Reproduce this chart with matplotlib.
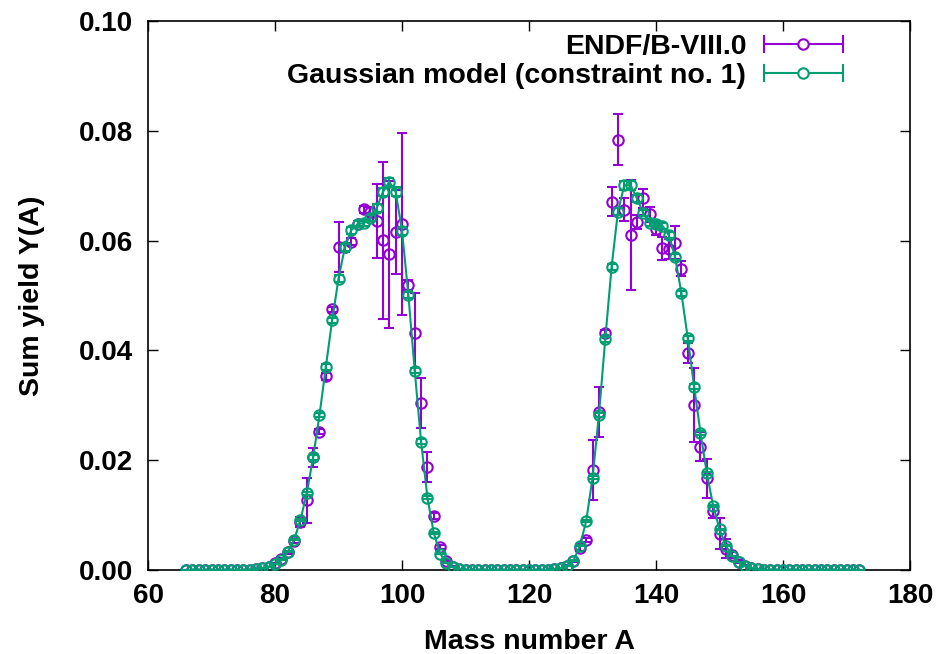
import matplotlib
matplotlib.use('Agg')
import matplotlib.pyplot as plt
from matplotlib.legend_handler import HandlerBase
from matplotlib.lines import Line2D

# fission product sum yields: ENDF/B-VIII.0 vs gaussian model fit

mass = list(range(66, 173))

endf_yield = ([0.0] * 11 +
              [0.0001, 0.0003, 0.0006, 0.0012, 0.0020, 0.0032, 0.0053, 0.0088, 0.0127, 0.0205,
               0.0252, 0.0353, 0.0475, 0.0588, 0.0588, 0.0598, 0.0630, 0.0657, 0.0653, 0.0636,
               0.0601, 0.0575, 0.0616, 0.0630, 0.0519, 0.0431, 0.0304, 0.0188, 0.0098, 0.0042,
               0.0017, 0.0006, 0.0002] +
              [0.0] * 14 +
              [0.0001, 0.0003, 0.0008, 0.0016, 0.0040, 0.0055, 0.0182, 0.0288, 0.0432, 0.0671,
               0.0784, 0.0656, 0.0610, 0.0634, 0.0677, 0.0648, 0.0622, 0.0586, 0.0585, 0.0596,
               0.0549, 0.0395, 0.0301, 0.0225, 0.0167, 0.0107, 0.0066, 0.0039, 0.0027, 0.0015,
               0.0008, 0.0003, 0.0001] +
              [0.0] * 16)

endf_err = ([0.0] * 11 +
            [0.0, 0.0, 0.0, 0.0001, 0.0002, 0.0003, 0.0004, 0.0009, 0.0041, 0.0017,
             0.0004, 0.0006, 0.0005, 0.0046, 0.0008, 0.0006, 0.0006, 0.0006, 0.0008, 0.0067,
             0.0143, 0.0134, 0.0077, 0.0166, 0.0009, 0.0073, 0.0046, 0.0027, 0.0005, 0.0004,
             0.0002, 0.0001, 0.0] +
            [0.0] * 14 +
            [0.0, 0.0, 0.0001, 0.0002, 0.0006, 0.0004, 0.0055, 0.0045, 0.0006, 0.0027,
             0.0047, 0.0021, 0.0100, 0.0013, 0.0017, 0.0014, 0.0012, 0.0021, 0.0018, 0.0030,
             0.0014, 0.0018, 0.0067, 0.0027, 0.0035, 0.0012, 0.0028, 0.0017, 0.0006, 0.0003,
             0.0001, 0.0, 0.0] +
            [0.0] * 16)

model_yield = ([0.0] * 11 +
               [0.0001, 0.0003, 0.0006, 0.0011, 0.0019, 0.0033, 0.0055, 0.0091, 0.0140, 0.0205,
                0.0282, 0.0370, 0.0455, 0.0531, 0.0588, 0.0619, 0.0630, 0.0632, 0.0641, 0.0659,
                0.0689, 0.0707, 0.0689, 0.0618, 0.0501, 0.0363, 0.0234, 0.0132, 0.0067, 0.0030,
                0.0013, 0.0005, 0.0002] +
               [0.0] * 14 +
               [0.0001, 0.0003, 0.0007, 0.0017, 0.0044, 0.0089, 0.0168, 0.0282, 0.0420, 0.0552,
                0.0653, 0.0701, 0.0701, 0.0677, 0.0650, 0.0633, 0.0630, 0.0627, 0.0610, 0.0570,
                0.0504, 0.0422, 0.0334, 0.0250, 0.0176, 0.0117, 0.0074, 0.0044, 0.0026, 0.0014,
                0.0007, 0.0003, 0.0001] +
               [0.0] * 16)

model_err = ([0.0] * 11 +
             [0.0, 0.0, 0.0, 0.0, 0.0001, 0.0001, 0.0001, 0.0002, 0.0003, 0.0004,
              0.0004, 0.0005, 0.0005, 0.0006, 0.0006, 0.0006, 0.0006, 0.0006, 0.0006, 0.0007,
              0.0007, 0.0008, 0.0008, 0.0007, 0.0006, 0.0005, 0.0004, 0.0003, 0.0002, 0.0001,
              0.0, 0.0, 0.0] +
             [0.0] * 14 +
             [0.0, 0.0, 0.0, 0.0001, 0.0001, 0.0002, 0.0003, 0.0004, 0.0005, 0.0006,
              0.0007, 0.0008, 0.0008, 0.0007, 0.0006, 0.0006, 0.0006, 0.0006, 0.0006, 0.0006,
              0.0005, 0.0005, 0.0004, 0.0004, 0.0003, 0.0002, 0.0001, 0.0001, 0.0, 0.0,
              0.0, 0.0, 0.0] +
             [0.0] * 16)

xticks = [60, 80, 100, 120, 140, 160, 180]
yticks = [0.0, 0.02, 0.04, 0.06, 0.08, 0.10]

purple = '#9400d3'
green = '#009e73'

plt.rcParams['font.family'] = ['Liberation Sans', 'DejaVu Sans']
plt.rcParams['font.weight'] = 'bold'


class ErrbarHandler(HandlerBase):
    # gnuplot style key sample: horizontal bar with caps, point in the middle
    def create_artists(self, legend, orig_handle, xdescent, ydescent,
                       width, height, fontsize, trans):
        c = orig_handle.get_color()
        y = height / 2.0 - ydescent
        x0 = -xdescent
        x1 = width - xdescent
        cap = 0.28 * fontsize
        arts = [Line2D([x0, x1], [y, y], color=c, lw=1.5),
                Line2D([x0, x0], [y - cap, y + cap], color=c, lw=1.5),
                Line2D([x1, x1], [y - cap, y + cap], color=c, lw=1.5),
                Line2D([(x0 + x1) / 2.0], [y], ls='none', marker='o', ms=7.5,
                       mfc='white', mec=c, mew=1.5)]
        for a in arts:
            a.set_transform(trans)
        return arts


fig = plt.figure(figsize=(9.38, 6.54), dpi=100)
ax = fig.add_axes([0.1578, 0.1284, 0.8124, 0.8394])

ax.errorbar(mass, endf_yield, yerr=endf_err, fmt='o', ls='none', color=purple,
            mfc='none', mec=purple, ms=7.5, mew=1.5, elinewidth=1.5,
            capsize=3.5, capthick=1.5, zorder=2)
ax.errorbar(mass, model_yield, yerr=model_err, fmt='o-', color=green, lw=1.5,
            mfc='none', mec=green, ms=7.5, mew=1.5, elinewidth=1.5,
            capsize=3.5, capthick=1.5, zorder=3)

ax.set_xlim(60, 180)
ax.set_ylim(0, 0.10)
ax.set_xticks(xticks)
ax.set_yticks(yticks)
ax.set_yticklabels(['%.2f' % v for v in yticks])
ax.tick_params(direction='in', top=True, right=True, length=7, width=1,
               labelsize=20)
ax.tick_params(axis='y', pad=10.5)
ax.tick_params(axis='x', pad=9)
for lab in ax.get_xticklabels() + ax.get_yticklabels():
    lab.set_fontweight('bold')
for s in ax.spines.values():
    s.set_linewidth(1.2)

ax.set_xlabel('Mass number A', fontsize=20.5, fontweight='bold')
ax.set_ylabel('Sum yield Y(A)', fontsize=20.5, fontweight='bold')
ax.xaxis.set_label_coords(0.5, -0.108)
ax.yaxis.set_label_coords(-0.135, 0.5)

handles = [Line2D([], [], color=purple), Line2D([], [], color=green)]
labels = ['ENDF/B-VIII.0', 'Gaussian model (constraint no. 1)']
ax.legend(handles, labels, handler_map={Line2D: ErrbarHandler()},
          loc='upper right', bbox_to_anchor=(0.912, 0.977), frameon=False,
          markerfirst=False, handlelength=2.78, handletextpad=0.62,
          labelspacing=0.1, borderpad=0, borderaxespad=0,
          prop={'weight': 'bold', 'size': 20.5})

fig.savefig('out.png', dpi=100)
